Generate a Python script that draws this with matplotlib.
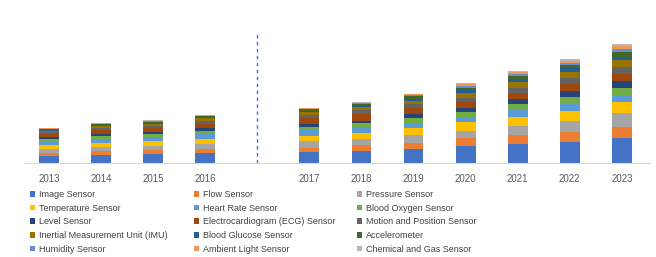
import numpy as np
import matplotlib
matplotlib.use("Agg")
import matplotlib.pyplot as plt
from matplotlib import font_manager

# narrow font if available, otherwise Liberation Sans
try:
    font_manager.findfont('Liberation Sans Narrow', fallback_to_default=False)
    fam = 'Liberation Sans Narrow'
    fs = 7.5
except Exception:
    fam = 'Liberation Sans'
    fs = 6.5
plt.rcParams['font.family'] = [fam, 'DejaVu Sans']

# DATA
years = ['2013', '2014', '2015', '2016', '2017', '2018', '2019', '2020', '2021', '2022', '2023']
positions = [0, 1, 2, 3, 5, 6, 7, 8, 9, 10, 11]  # gap at 4 for the forecast divider

sensors = ['Image Sensor', 'Flow Sensor', 'Pressure Sensor',
           'Temperature Sensor', 'Heart Rate Sensor', 'Blood Oxygen Sensor',
           'Level Sensor', 'Electrocardiogram (ECG) Sensor', 'Motion and Position Sensor',
           'Inertial Measurement Unit (IMU)', 'Blood Glucose Sensor', 'Accelerometer',
           'Humidity Sensor', 'Ambient Light Sensor', 'Chemical and Gas Sensor']

image_sensor    = [7.0, 8.5, 9.0, 10.0, 11.0, 12.0, 14.5, 17.0, 19.0, 21.5, 25.0]
flow_sensor     = [3.0, 3.5, 4.0, 4.5, 4.5, 6.0, 6.0, 8.0, 9.0, 10.0, 11.0]
pressure_sensor = [4.0, 4.0, 4.5, 5.0, 6.5, 6.0, 7.5, 7.5, 9.5, 11.0, 14.0]
temperature     = [4.0, 4.5, 4.5, 5.0, 5.5, 6.5, 7.5, 8.5, 9.0, 10.0, 11.0]
heart_rate      = [3.5, 4.0, 4.5, 5.0, 5.5, 5.5, 5.0, 5.5, 7.0, 7.0, 7.5]
blood_oxygen    = [3.0, 3.0, 3.0, 3.0, 3.5, 4.0, 4.5, 4.5, 5.5, 7.0, 6.5]
level_sensor    = [2.0, 2.0, 2.0, 2.5, 3.0, 2.5, 4.0, 4.5, 5.5, 6.0, 7.0]
ecg_sensor      = [3.0, 3.5, 3.5, 4.5, 6.0, 7.0, 6.0, 5.5, 6.0, 6.5, 7.5]
motion_position = [1.5, 2.0, 2.5, 3.0, 3.0, 4.0, 4.0, 4.5, 5.0, 6.0, 7.0]
imu             = [1.5, 2.0, 2.0, 2.5, 2.5, 3.0, 3.5, 4.5, 5.5, 6.5, 6.5]
blood_glucose   = [1.0, 1.0, 1.0, 1.0, 1.5, 1.5, 2.0, 2.8, 3.5, 3.5, 3.5]
accelerometer   = [0.5, 1.0, 1.0, 1.0, 1.5, 1.5, 2.5, 2.7, 3.0, 3.5, 4.5]
humidity        = [0.5, 0.5, 0.5, 0.5, 0.5, 0.5, 1.0, 1.8, 1.8, 2.0, 3.5]
ambient_light   = [0.3, 0.3, 0.5, 0.5, 0.5, 0.5, 1.0, 1.5, 1.7, 2.0, 3.0]
chemical_gas    = [0.2, 0.2, 0.5, 0.5, 0.5, 0.5, 0.5, 1.2, 1.0, 1.5, 2.0]

series = [image_sensor, flow_sensor, pressure_sensor, temperature, heart_rate,
          blood_oxygen, level_sensor, ecg_sensor, motion_position, imu,
          blood_glucose, accelerometer, humidity, ambient_light, chemical_gas]

colors = ['#4472C4', '#ED7D31', '#A5A5A5', '#FFC000', '#5B9BD5', '#70AD47',
          '#264478', '#9E480E', '#636363', '#997300', '#255E91', '#43682B',
          '#698ED0', '#F1975A', '#B7B7B7']

# PLOT
fig = plt.figure(figsize=(6.56, 2.57), dpi=100)
ax = fig.add_axes([25/656, 1 - 163/257, 625/656, 148/257])

bottom = np.zeros(len(years))
handles = []
for name, vals, c in zip(sensors, series, colors):
    vals = np.array(vals)
    b = ax.bar(positions, vals, width=0.38, bottom=bottom, color=c, label=name)
    handles.append(b)
    bottom += vals

ax.axvline(4, ymin=0, ymax=131/148, color='#4472C4', linestyle=(0, (2.5, 2.5)), linewidth=1)

ax.set_xlim(-0.46, 11.54)
ax.set_ylim(0, 148)
ax.set_xticks(positions)
ax.set_xticklabels(years, fontsize=fs + 0.5, color='#595959')
ax.tick_params(axis='x', length=0, pad=8)
ax.set_yticks([])
for s in ['top', 'right', 'left']:
    ax.spines[s].set_visible(False)
ax.spines['bottom'].set_color('#d9d9d9')

# legend: three columns placed by hand, row-major like the original
col_x = [30, 194, 357]
for c in range(3):
    idx = list(range(c, 15, 3))
    leg = fig.legend([handles[i] for i in idx], [sensors[i] for i in idx],
                     ncol=1, loc='upper left', bbox_to_anchor=(col_x[c]/656, 1 - 190/257),
                     frameon=False, fontsize=fs, handlelength=0.6, handleheight=0.6,
                     handletextpad=0.4, labelspacing=0.52,
                     borderpad=0, borderaxespad=0)
    for t in leg.get_texts():
        t.set_color('#404040')

fig.savefig('out.png', dpi=100)
